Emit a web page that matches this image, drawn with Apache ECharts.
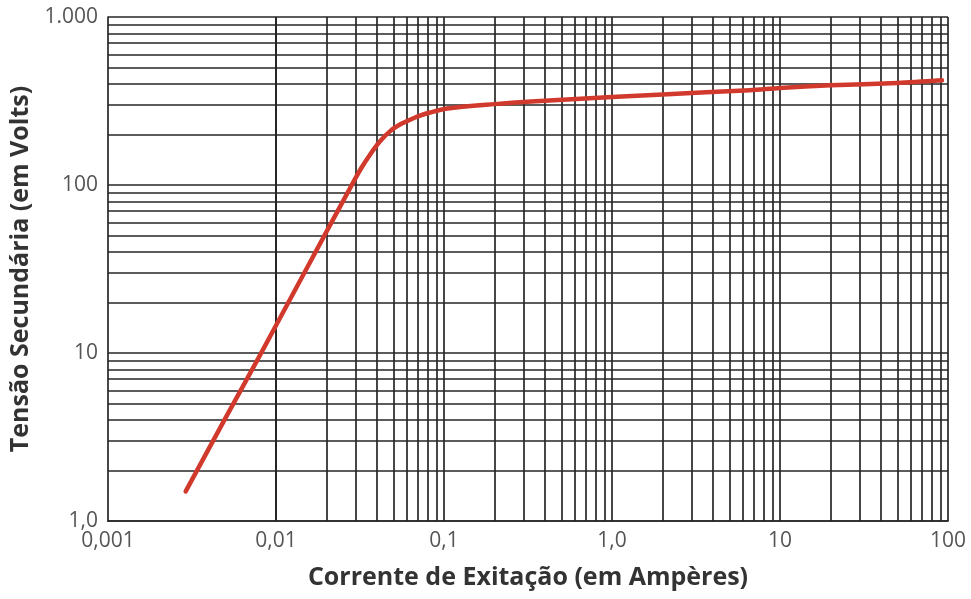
<!DOCTYPE html>
<html>
<head>
<meta charset="utf-8">
<script src="https://cdn.jsdelivr.net/npm/echarts@6/dist/echarts.min.js"></script>
<style>
html,body{margin:0;padding:0;background:#fff;}
#chart{width:971px;height:599px;}
</style>
</head>
<body>
<div id="chart"></div>
<script>
// Excitation current (A) and secondary voltage (V)
var currentA = [0.0029, 0.005, 0.0078, 0.015, 0.0287, 0.032, 0.036, 0.0416, 0.048, 0.055, 0.0603, 0.07, 0.0826, 0.104, 0.2, 0.33, 1.0, 2.0, 6.6, 10, 20, 50, 92];
var voltageV = [1.5, 4.1, 9.2, 31, 103, 125, 150, 182, 210, 230, 240, 256, 270, 285, 303, 314, 334, 346, 367, 378, 392, 405, 420];

// Axis ticks and labels
var xDecades = [0.001, 0.01, 0.1, 1, 10, 100];
var xTickLabels = ['0,001', '0,01', '0,1', '1,0', '10', '100'];
var yDecades = [1, 10, 100, 1000];
var yTickLabels = ['1,0', '10', '100', '1.000'];
var minorMultipliers = [2, 3, 4, 5, 6, 7, 8, 9];

var xTitle = 'Corrente de Exitação (em Ampères)';
var yTitle = 'Tensão Secundária (em Volts)';

function gridValues(decades) {
  var out = [];
  for (var i = 0; i < decades.length; i++) {
    out.push(decades[i]);
    if (i < decades.length - 1) {
      for (var j = 0; j < minorMultipliers.length; j++) {
        out.push(+(decades[i] * minorMultipliers[j]).toPrecision(6));
      }
    }
  }
  return out;
}
function labelFor(v, decades, labels) {
  var e = Math.round(Math.log10(v));
  for (var i = 0; i < decades.length; i++) {
    if (Math.round(Math.log10(decades[i])) === e) return labels[i];
  }
  return '';
}

var gridStyle = {color: '#262626', width: 1.7, type: 'solid', opacity: 1};
var vLines = gridValues(xDecades).map(function (v) { return {xAxis: v}; });
var hLines = gridValues(yDecades).map(function (v) { return {yAxis: v}; });

var chart = echarts.init(document.getElementById('chart'), null, {renderer: 'canvas'});
chart.setOption({
  animation: false,
  backgroundColor: '#fff',
  grid: {left: 108, right: 23, top: 17, bottom: 78, containLabel: false},
  xAxis: {
    type: 'log', logBase: 10,
    min: xDecades[0], max: xDecades[xDecades.length - 1],
    name: xTitle, nameLocation: 'middle', nameGap: 44,
    nameTextStyle: {fontFamily: 'Open Sans', fontWeight: 'bold', fontSize: 25, color: '#333'},
    axisLine: {show: true, lineStyle: {color: '#262626', width: 1.7}},
    axisTick: {show: false},
    splitLine: {show: false},
    minorSplitLine: {show: false},
    axisLabel: {
      margin: 10, fontFamily: 'Open Sans', fontSize: 21, color: '#555',
      formatter: function (v) { return labelFor(v, xDecades, xTickLabels); }
    }
  },
  yAxis: {
    type: 'log', logBase: 10,
    min: yDecades[0], max: yDecades[yDecades.length - 1],
    name: yTitle, nameLocation: 'middle', nameGap: 72, nameRotate: 90,
    nameTextStyle: {fontFamily: 'Open Sans', fontWeight: 'bold', fontSize: 25, color: '#333'},
    axisLine: {show: true, lineStyle: {color: '#262626', width: 1.7}},
    axisTick: {show: false},
    splitLine: {show: false},
    axisLabel: {
      margin: 10, fontFamily: 'Open Sans', fontSize: 21, color: '#555',
      formatter: function (v) { return labelFor(v, yDecades, yTickLabels); }
    }
  },
  series: [
    {
      type: 'line',
      data: [],
      silent: true,
      markLine: {
        silent: true, symbol: 'none', animation: false,
        label: {show: false},
        lineStyle: gridStyle,
        data: vLines.concat(hLines)
      }
    },
    {
      type: 'line',
      data: currentA.map(function (x, i) { return [x, voltageV[i]]; }),
      smooth: 0.3,
      showSymbol: false,
      lineStyle: {color: '#d0392b', width: 4.5, cap: 'round', join: 'round'},
      z: 5
    }
  ]
});
</script>
</body>
</html>
